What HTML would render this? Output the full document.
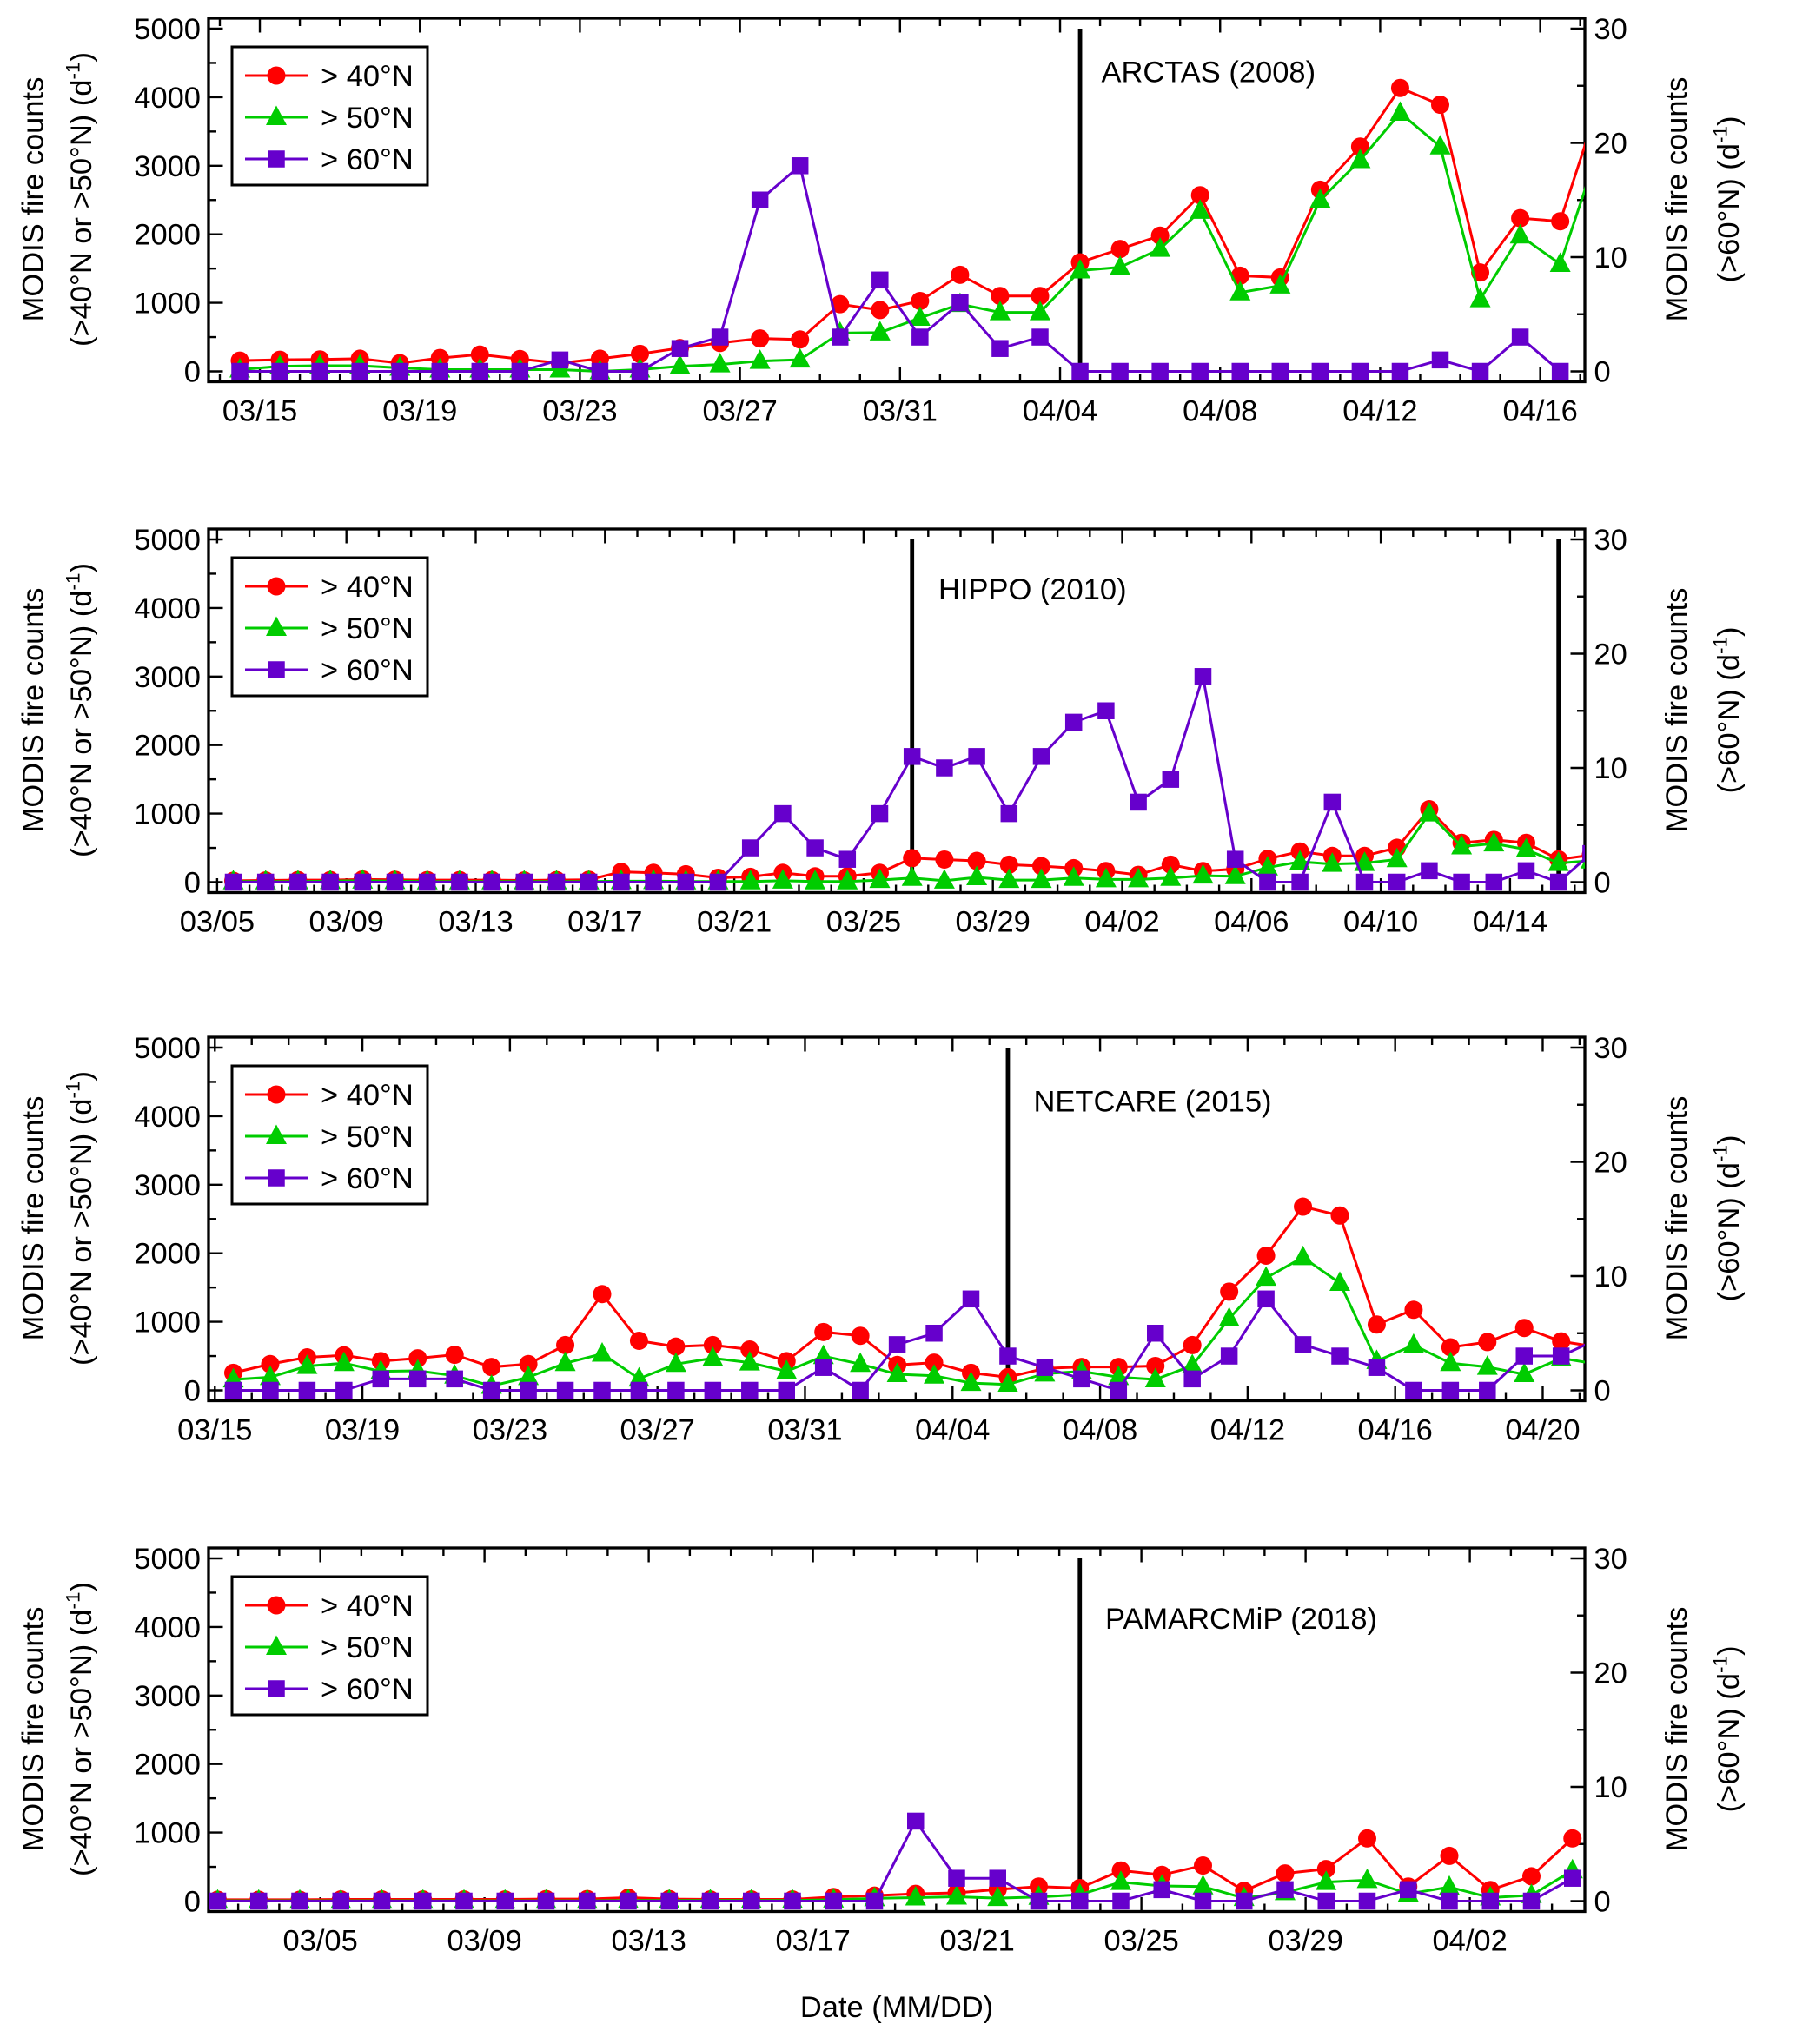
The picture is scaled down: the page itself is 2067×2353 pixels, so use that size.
<!DOCTYPE html>
<html><head><meta charset="utf-8"><style>
html,body{margin:0;padding:0;background:#fff}
svg{display:block}
text{font-family:"Liberation Sans",Arial,sans-serif;fill:#000}
</style></head><body>
<svg id="chart" xmlns="http://www.w3.org/2000/svg" width="2067" height="2353" viewBox="0 0 1378 1568.67" preserveAspectRatio="none">
<text x="688" y="1548" font-size="23" text-anchor="middle">Date (MM/DD)</text>
</svg>
<script>
// ===== ARCTAS (2008), points from 03/14 =====
const arctasRed=[157,170,175,185,120,195,245,180,120,185,255,340,415,480,465,980,895,1027,1409,1100,1100,1590,1785,1980,2570,1395,1370,2650,3280,4135,3890,1443,2235,2190,3980];
const arctasGreen=[25,75,83,83,50,25,25,25,25,0,25,75,100,150,170,560,565,780,980,860,860,1470,1520,1785,2340,1150,1250,2500,3080,3770,3280,1050,1980,1565,3320];
const arctasPurple=[0,0,0,0,0,0,0,0,1,0,0,2,3,15,18,3,8,3,6,2,3,0,0,0,0,0,0,0,0,0,1,0,3,0];
const arctasTicks=["03/15","03/19","03/23","03/27","03/31","04/04","04/08","04/12","04/16"];
// ===== HIPPO (2010), points from 03/05 =====
const hippoRed=[20,25,30,30,40,35,30,30,30,25,30,35,150,136,115,64,77,136,85,85,136,350,330,310,255,234,204,162,106,255,162,191,340,447,383,383,502,1064,574,617,574,332,395];
const hippoGreen=[10,10,10,15,20,15,10,10,10,10,10,10,15,15,10,10,10,20,10,10,30,60,20,70,30,30,60,40,40,60,94,85,213,298,264,277,332,1000,519,562,477,277,313];
const hippoPurple=[0,0,0,0,0,0,0,0,0,0,0,0,0,0,0,0,3,6,3,2,6,11,10,11,6,11,14,15,7,9,18,2,0,0,7,0,0,1,0,0,1,0,2.5];
const hippoTicks=["03/05","03/09","03/13","03/17","03/21","03/25","03/29","04/02","04/06","04/10","04/14"];
// ===== NETCARE (2015), points from 03/15 =====
const netcareRed=[255,383,481,511,426,468,519,340,383,660,1404,723,638,660,596,426,851,796,370,404,255,192,320,340,340,355,660,1440,1965,2680,2550,960,1175,628,705,910,714,630];
const netcareGreen=[157,191,353,396,277,285,213,64,191,396,532,170,383,468,404,277,498,383,234,213,106,85,243,277,192,158,362,1045,1640,1940,1565,426,660,396,340,234,468,380];
const netcarePurple=[0,0,0,0,1,1,1,0,0,0,0,0,0,0,0,0,2,0,4,5,8,3,2,1,0,5,1,3,8,4,3,2,0,0,0,3,3,4.5];
const netcareTicks=["03/15","03/19","03/23","03/27","03/31","04/04","04/08","04/12","04/16","04/20"];
// ===== PAMARCMiP (2018), points from 03/02 =====
const pamRed=[20,20,20,25,25,25,25,25,30,30,50,30,25,25,25,60,80,106,120,170,213,190,447,383,519,150,404,468,915,213,660,162,362,915];
const pamGreen=[5,5,5,5,5,5,5,5,5,5,10,10,10,10,10,20,40,50,64,43,60,94,277,221,213,43,128,277,306,106,205,50,85,447];
const pamPurple=[0,0,0,0,0,0,0,0,0,0,0,0,0,0,0,0,0,7,2,2,0,0,0,1,0,0,1,0,0,1,0,0,0,2];
const pamTicks=["03/05","03/09","03/13","03/17","03/21","03/25","03/29","04/02"];

const NS="http://www.w3.org/2000/svg";
const svg=document.getElementById('chart');
function mk(tag,attrs,parent){const e=document.createElementNS(NS,tag);for(const k in attrs)e.setAttribute(k,attrs[k]);(parent||svg).appendChild(e);return e;}

const L=160,R=1216;
const panels=[
 {id:'arctas',name:'ARCTAS (2008)',red:arctasRed,green:arctasGreen,purple:arctasPurple,ticks:arctasTicks,tickStart:1,x0:184,step:30.7,top:22,vlines:[21],lx:845,ly:63},
 {id:'hippo',name:'HIPPO (2010)',red:hippoRed,green:hippoGreen,purple:hippoPurple,ticks:hippoTicks,tickStart:0,x0:179,step:24.8,top:414,vlines:[21,41],lx:720,ly:460},
 {id:'netcare',name:'NETCARE (2015)',red:netcareRed,green:netcareGreen,purple:netcarePurple,ticks:netcareTicks,tickStart:0,x0:179,step:28.3,top:804,vlines:[21],lx:793,ly:853},
 {id:'pamarcmip',name:'PAMARCMiP (2018)',red:pamRed,green:pamGreen,purple:pamPurple,ticks:pamTicks,tickStart:3,x0:167,step:31.5,top:1196,vlines:[21],lx:848,ly:1250}
];
const RED='#ff0000',GREEN='#00cc00',PURPLE='#6600cc';

function marker(g,type,x,y,color){
  let m;
  if(type==='c') m=mk('circle',{cx:x,cy:y,r:7,fill:color},g);
  else if(type==='t') m=mk('polygon',{points:`${x},${y-9} ${x-8},${y+6} ${x+8},${y+6}`,fill:color},g);
  else m=mk('rect',{x:x-6.5,y:y-6.5,width:13,height:13,fill:color},g);
  return m;
}

panels.forEach((p,pi)=>{
  const y0=p.top+263;
  const yL=v=>y0-(v/5000)*263;
  const yR=v=>y0-(v/30)*263;
  const xs=i=>p.x0+i*p.step;
  const fTop=p.top-8,fBot=y0+8;
  const g=mk('g',{});
  
  
  const cid='clip'+pi;
  const cp=mk('clipPath',{id:cid},g);
  mk('rect',{x:L,y:fTop,width:R-L,height:fBot-fTop},cp);
  const fr=mk('rect',{x:L,y:fTop,width:R-L,height:fBot-fTop,fill:'none',stroke:'#000','stroke-width':2.2},g);
  
  
  for(let k=-3;k<60;k++){
    const x=p.x0+(k-0.5)*p.step;
    if(x<=L+1||x>=R-1)continue;
    const major=((k-p.tickStart)%4+4)%4===0;
    const len=major?11:6;
    mk('line',{x1:x,y1:fBot,x2:x,y2:fBot-len,stroke:'#000','stroke-width':1.6},g);
    mk('line',{x1:x,y1:fTop,x2:x,y2:fTop+len,stroke:'#000','stroke-width':1.6},g);
  }
  p.ticks.forEach((t,j)=>{
    const k=p.tickStart+j*4;
    const x=p.x0+(k-0.5)*p.step;
    const tx=mk('text',{x:x,y:fBot+30,'font-size':23,'text-anchor':'middle'},g);
    tx.textContent=t;
    
    
  });
  for(let v=0;v<=5000;v+=500){
    const y=yL(v),major=v%1000===0;
    mk('line',{x1:L,y1:y,x2:L+(major?11:6),y2:y,stroke:'#000','stroke-width':1.6},g);
    if(major){const t=mk('text',{x:L-6,y:y+8,'font-size':23,'text-anchor':'end'},g);t.textContent=v;
      
      }
  }
  for(let v=0;v<=30;v+=5){
    const y=yR(v),major=v%10===0;
    mk('line',{x1:R,y1:y,x2:R-(major?11:6),y2:y,stroke:'#000','stroke-width':1.6},g);
    if(major){const t=mk('text',{x:R+7,y:y+8,'font-size':23},g);t.textContent=v;
      
      }
  }
  const cy=p.top+131;
  const t1=mk('text',{x:0,y:0,'font-size':23,'text-anchor':'middle',transform:`translate(33,${cy}) rotate(-90)`},g);
  t1.textContent='MODIS  fire counts';
  
  
  const t2=mk('text',{x:0,y:0,'font-size':23,'text-anchor':'middle',transform:`translate(70,${cy}) rotate(-90)`},g);
  t2.innerHTML='(&gt;40°N or &gt;50°N) (d<tspan font-size="15" dy="-9">-1</tspan><tspan dy="9">)</tspan>';
  
  
  const t3=mk('text',{x:0,y:0,'font-size':23,'text-anchor':'middle',transform:`translate(1294,${cy}) rotate(-90)`},g);
  t3.textContent='MODIS  fire counts';
  
  
  const t4=mk('text',{x:0,y:0,'font-size':23,'text-anchor':'middle',transform:`translate(1334,${cy}) rotate(-90)`},g);
  t4.innerHTML='(&gt;60°N) (d<tspan font-size="15" dy="-9">-1</tspan><tspan dy="9">)</tspan>';
  
  
  p.vlines.forEach(i=>{
    const vl=mk('line',{x1:xs(i),y1:p.top,x2:xs(i),y2:y0,stroke:'#000','stroke-width':3.2},g);
    
    
  });
  const lab=mk('text',{x:p.lx,y:p.ly,'font-size':23},g);
  lab.textContent=p.name;
  
  
  const series=[
    {vals:p.red,col:RED,m:'c',ys:yL,n:'series-40n'},
    {vals:p.green,col:GREEN,m:'t',ys:yL,n:'series-50n'},
    {vals:p.purple,col:PURPLE,m:'s',ys:yR,n:'series-60n'}
  ];
  series.forEach(s=>{
    const sg=mk('g',{'clip-path':`url(#${cid})`},g);
    
    
    const pts=s.vals.map((v,i)=>xs(i)+','+s.ys(v)).join(' ');
    const pl=mk('polyline',{points:pts,fill:'none',stroke:s.col,'stroke-width':2},sg);
    
    
    s.vals.forEach((v,i)=>{
      const mm=marker(sg,s.m,xs(i),s.ys(v),s.col);
      
      
    });
  });
  const lg=mk('g',{},g);
  
  
  const lt=p.top+14;
  mk('rect',{x:178,y:lt,width:150,height:106,fill:'#fff',stroke:'#000','stroke-width':2},lg);
  [['> 40°N',RED,'c'],['> 50°N',GREEN,'t'],['> 60°N',PURPLE,'s']].forEach((e,j)=>{
    const ey=lt+22+j*32;
    const eg=mk('g',{},lg);
    
    
    mk('line',{x1:188,y1:ey,x2:236,y2:ey,stroke:e[1],'stroke-width':2},eg);
    marker(eg,e[2],212,ey,e[1]);
    const tt=mk('text',{x:246,y:ey+8,'font-size':23},eg);
    tt.textContent=e[0];
  });
});
</script>
</body></html>
